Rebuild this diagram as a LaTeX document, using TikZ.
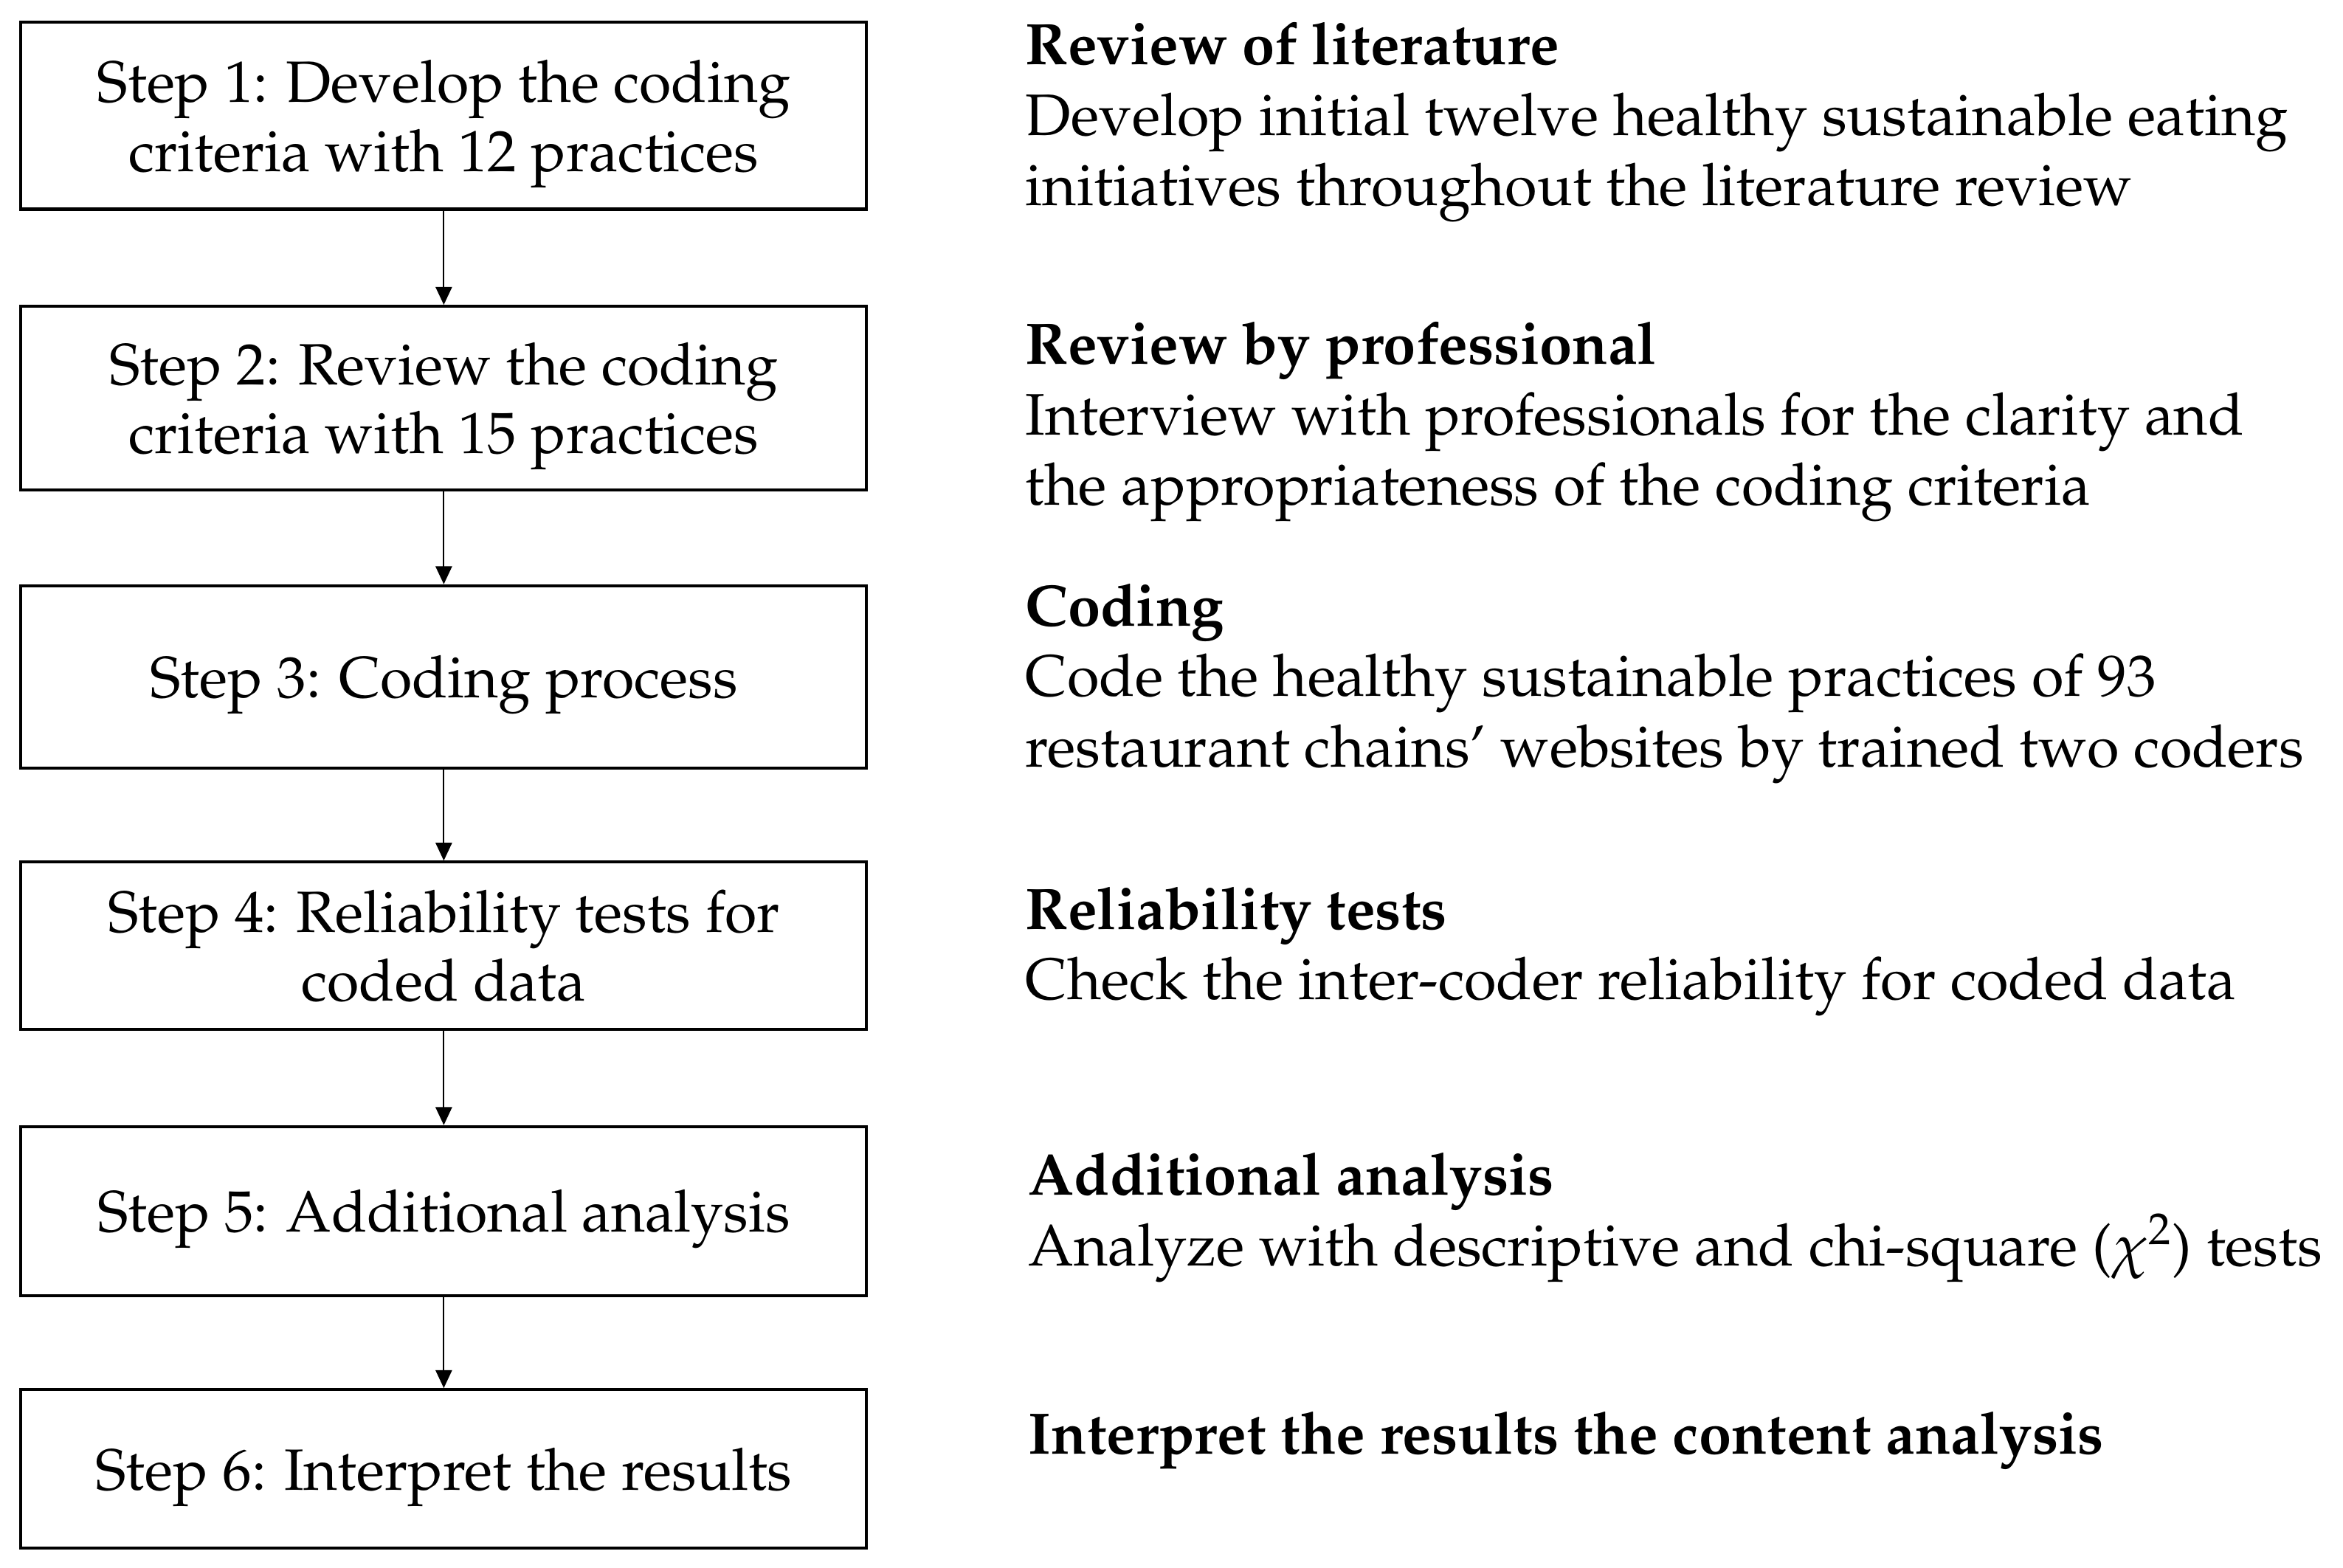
\documentclass[tikz,border=0pt]{standalone}
\usepackage[T1]{fontenc}
\usepackage{mathpazo}
\usetikzlibrary{arrows.meta}
\begin{document}
\begin{tikzpicture}[x=0.5pt,y=-0.5pt,
  stepbox/.style={draw, line width=1pt, minimum width=283pt, inner sep=0pt, text depth=0pt, align=center, font=\fontsize{19.5}{23}\selectfont},
  desc/.style={anchor=base west, inner sep=0pt, font=\fontsize{19.6}{23.7}\selectfont},
  head/.style={desc, font=\fontsize{19.6}{23.7}\selectfont\bfseries},
  flow/.style={-{Triangle[length=6pt,width=5.5pt]}, line width=0.5pt}]
\useasboundingbox (0,0) rectangle (1568,1049);
% step boxes
\node[stepbox, minimum height=62.5pt] (s1) at (297,77.5) {Step 1: Develop the coding\\criteria with 12 practices};
\node[stepbox, minimum height=61.5pt] (s2) at (297,266.5) {Step 2: Review the coding\\criteria with 15 practices};
\node[stepbox, minimum height=61pt] (s3) at (297,453) {Step 3: Coding process};
\node[stepbox, minimum height=56pt] (s4) at (297,633) {Step 4: Reliability tests for\\coded data};
\node[stepbox, minimum height=56.5pt] (s5) at (297,810.5) {Step 5: Additional analysis};
\node[stepbox, minimum height=53pt] (s6) at (297,983) {Step 6: Interpret the results};
% arrows
\draw[flow] (s1) -- (s2);
\draw[flow] (s2) -- (s3);
\draw[flow] (s3) -- (s4);
\draw[flow] (s4) -- (s5);
\draw[flow] (s5) -- (s6);
% descriptions
\node[head] (h1) at (686,43) {Review of literature};
\node[desc] (d1a) at (686,90.5) {Develop initial twelve healthy sustainable eating};
\node[desc] (d1b) at (686,137.5) {initiatives throughout the literature review};
\node[head] (h2) at (686,243.5) {Review by professional};
\node[desc] (d2a) at (686,291) {Interview with professionals for the clarity and};
\node[desc] (d2b) at (686,338) {the appropriateness of the coding criteria};
\node[head] (h3) at (686,419) {Coding};
\node[desc] (d3a) at (686,466) {Code the healthy sustainable practices of 93};
\node[desc] (d3b) at (686,513.5) {restaurant chains' websites by trained two coders};
\node[head] (h4) at (686,622) {Reliability tests};
\node[desc] (d4a) at (686,669) {Check the inter-coder reliability for coded data};
\node[head] (h5) at (688,800) {Additional analysis};
\node[desc] (d5a) at (688,847) {Analyze with descriptive and chi-square ($\chi$\textsuperscript{2}) tests};
\node[head] (h6) at (688,973) {Interpret the results the content analysis};
\end{tikzpicture}
\end{document}
